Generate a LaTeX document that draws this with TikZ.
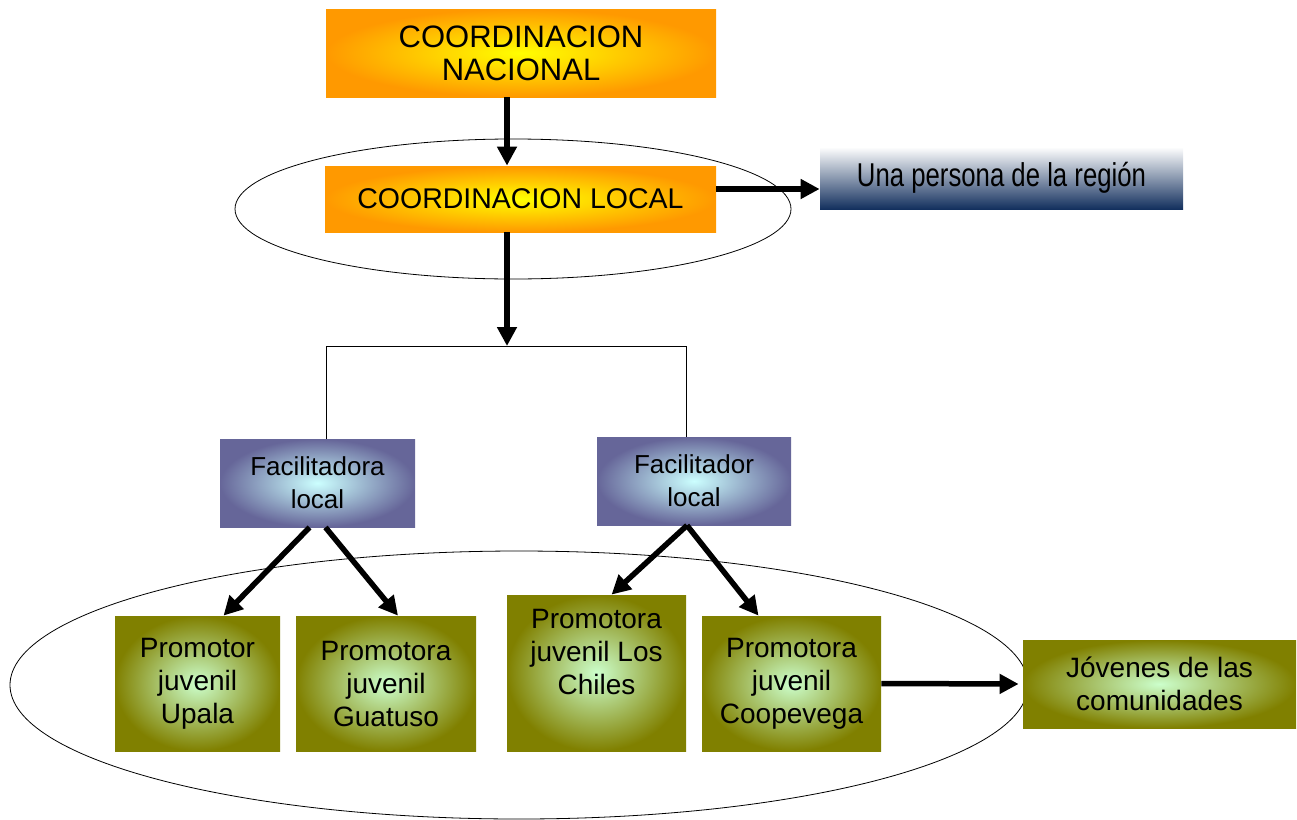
\documentclass[tikz,border=0pt]{standalone}
\usepackage{fontspec}
\setmainfont{Liberation Sans}
\newfontfamily\narrowfont{Liberation Sans}[FakeStretch=0.78]
\usetikzlibrary{arrows.meta}
\definecolor{ppOrange}{HTML}{FF9900}
\definecolor{ppYellow}{HTML}{FFFF00}
\definecolor{ppSlate}{HTML}{666699}
\definecolor{ppIce}{HTML}{CCFFFF}
\definecolor{ppOlive}{HTML}{808000}
\definecolor{ppMint}{HTML}{CCFFCC}
\definecolor{ppNavy}{HTML}{13305E}

\begin{document}
\begin{tikzpicture}[x=1pt,y=-1pt,line width=.8pt,
  coordbox/.style={rectangle,inner sep=0pt,align=center,inner color=ppYellow,outer color=ppOrange},
  facbox/.style={rectangle,inner sep=0pt,align=center,inner color=ppIce,outer color=ppSlate,font=\fontsize{26}{33}\selectfont},
  promobox/.style={rectangle,inner sep=0pt,align=center,inner color=ppMint,outer color=ppOlive,font=\fontsize{28}{33}\selectfont},
  bigarrow/.style={line width=5.5pt,-{Triangle[length=19pt,width=19pt]}}]
\path[use as bounding box] (0,0) rectangle (1297,819);
% rings
\draw (513,209) ellipse [x radius=278, y radius=70];
\draw (519,685) ellipse [x radius=509, y radius=134];
% top
\node[coordbox,minimum width=390pt,minimum height=88pt,font=\fontsize{31}{33}\selectfont] (cn) at (521,53) {COORDINACION\\NACIONAL};
\node[coordbox,minimum width=391pt,minimum height=66pt,font=\fontsize{28.5}{30}\selectfont] (cl) at (520.5,199) {COORDINACION LOCAL};
\node[rectangle,inner sep=0pt,top color=white,bottom color=ppNavy,minimum width=363pt,minimum height=62pt,font=\narrowfont\fontsize{33}{36}\selectfont] (pe) at (1001.5,178) {\raisebox{7pt}{Una persona de la región}};
% facilitators
\node[facbox,minimum width=195pt,minimum height=88pt] (fa) at (317.5,483) {Facilitadora\\local};
\node[facbox,minimum width=194pt,minimum height=88pt] (fo) at (694,481) {Facilitador\\local};
% promoters
\node[promobox,minimum width=165pt,minimum height=135pt] (up) at (197.5,683.5) {Promotor\\juvenil\\Upala};
\node[promobox,minimum width=180pt,minimum height=135pt] (gu) at (386,683.5) {Promotora\\juvenil\\Guatuso};
\node[promobox,minimum width=179pt,minimum height=156pt] (lc) at (596.5,673) {Promotora\\juvenil Los\\Chiles\\ \strut};
\node[promobox,minimum width=179pt,minimum height=135pt] (co) at (791.5,683.5) {Promotora\\juvenil\\Coopevega};
\node[promobox,minimum width=273pt,minimum height=88pt] (jo) at (1159.5,684) {Jóvenes de las\\comunidades};
% connectors
\coordinate (j) at (507,346);
\coordinate (jl) at (326,346);
\coordinate (jr) at (686,346);
\draw[bigarrow] (cn.south -| j) -- (cl.north -| j);
\draw[bigarrow] (cl.south -| j) -- (j);
\draw[bigarrow] ([yshift=10pt]cl.east) -- ([yshift=10pt]cl.east -| pe.west);
\draw (fa.north -| jl) -- (jl) -- (jr) -- (fo.north -| jr);
\draw[bigarrow] ([xshift=-8pt]fa.south) -- ([xshift=26pt]up.north);
\draw[bigarrow] ([xshift=8pt]fa.south) -- ([xshift=12pt]gu.north);
\draw[bigarrow] ([xshift=-7pt]fo.south) -- ([xshift=15pt]lc.north);
\draw[bigarrow] ([xshift=-7pt]fo.south) -- ([xshift=-33pt]co.north);
\draw[bigarrow,shorten >=4pt] (co.east) -- (jo.west);
\end{tikzpicture}
\end{document}
